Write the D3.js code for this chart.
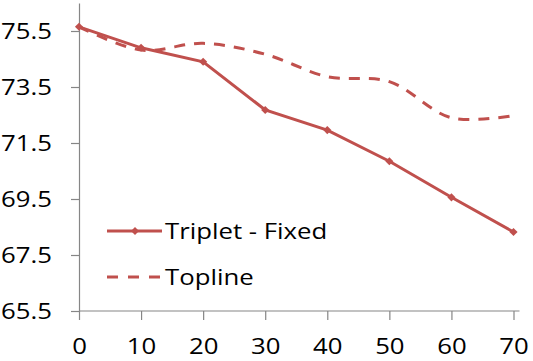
<!DOCTYPE html>
<html lang="en">
<head>
	<meta charset="UTF-8">
	<title>chart</title>
	<style>
		body { margin: 0; background: #fff; }
		text { font-family: "Open Sans", sans-serif; fill: #000; }
	</style>
</head>
<body>
	<svg id="cont" width="533" height="361"></svg>
</body>
<script src="https://cdn.jsdelivr.net/npm/d3@7/dist/d3.min.js"></script>
<script>
	let steps = [0, 10, 20, 30, 40, 50, 60, 70];
	let triplet = [75.65, 74.9, 74.4, 72.68, 71.96, 70.85, 69.56, 68.32];
	let topline = [75.65, 74.82, 75.06, 74.67, 73.87, 73.69, 72.4, 72.48];
	let yTicks = [65.5, 67.5, 69.5, 71.5, 73.5, 75.5];
	let seriesNames = ["Triplet - Fixed", "Topline"];

	let red = "#C0504D";
	let grey = "#868686";
	let stretch = 1.17;
	let svg = d3.select("#cont");

	let x = d3.scaleLinear().domain([0, 70]).range([79, 513.5]);
	let y = d3.scaleLinear().domain([65.5, 76.5]).range([311, 3]);

	// axes
	let yaxis = d3.axisLeft(y)
		.tickValues(yTicks)
		.tickFormat(d3.format(".1f"))
		.tickSize(8)
		.tickSizeOuter(0)
		.tickPadding(19);
	let gy = svg.append("g")
		.attr("transform", "translate(79,0)")
		.call(yaxis);

	let xaxis = d3.axisBottom(x)
		.tickValues(steps)
		.tickSize(9)
		.tickSizeOuter(0);
	let gx = svg.append("g")
		.attr("transform", "translate(0,311)")
		.call(xaxis);
	gx.select(".domain").attr("d", "M" + x(0) + ",0H" + (x(70) + 6));

	svg.selectAll(".domain, .tick line").attr("stroke", grey).attr("stroke-width", 1.2);
	svg.selectAll(".tick text")
		.style("font-family", '"Open Sans", sans-serif')
		.attr("font-size", 22)
		.attr("fill", "#000");
	gx.selectAll(".tick text").attr("y", 43).attr("dy", "0");

	// lines
	let solid = d3.line()
		.x((d, i) => x(steps[i]))
		.y(d => y(d));
	let smooth = d3.line()
		.x((d, i) => x(steps[i]))
		.y(d => y(d))
		.curve(d3.curveCatmullRom);

	svg.append("path")
		.datum(topline)
		.attr("d", smooth)
		.attr("fill", "none")
		.attr("stroke", red)
		.attr("stroke-width", 3)
		.attr("stroke-dasharray", "11,9");

	svg.append("path")
		.datum(triplet)
		.attr("d", solid)
		.attr("fill", "none")
		.attr("stroke", red)
		.attr("stroke-width", 3);

	let diamond = d3.symbol().type(d3.symbolDiamond2 || d3.symbolDiamond).size(42);
	svg.selectAll(".mk")
		.data(triplet)
		.enter()
		.append("path")
		.attr("class", "mk")
		.attr("d", diamond)
		.attr("fill", red)
		.attr("transform", (d, i) => "translate(" + x(steps[i]) + "," + y(d) + ")");

	// legend
	let leg = svg.append("g");
	let legY = [231, 277];
	leg.append("line")
		.attr("x1", 107).attr("x2", 162)
		.attr("y1", legY[0]).attr("y2", legY[0])
		.attr("stroke", red).attr("stroke-width", 3);
	leg.append("path")
		.attr("d", diamond)
		.attr("fill", red)
		.attr("transform", "translate(135," + legY[0] + ")");
	leg.append("line")
		.attr("x1", 107).attr("x2", 162)
		.attr("y1", legY[1]).attr("y2", legY[1])
		.attr("stroke", red).attr("stroke-width", 3)
		.attr("stroke-dasharray", "11,10");
	leg.selectAll("text")
		.data(seriesNames)
		.enter()
		.append("text")
		.attr("x", 165)
		.attr("y", (d, i) => legY[i] + 8)
		.attr("font-size", 22)
		.text(d => d);

	// the reference font is wider than anything installed: stretch glyphs a little
	svg.selectAll("text").each(function() {
		let w = this.getComputedTextLength();
		d3.select(this)
			.attr("textLength", w * stretch)
			.attr("lengthAdjust", "spacingAndGlyphs");
	});
</script>
</html>
